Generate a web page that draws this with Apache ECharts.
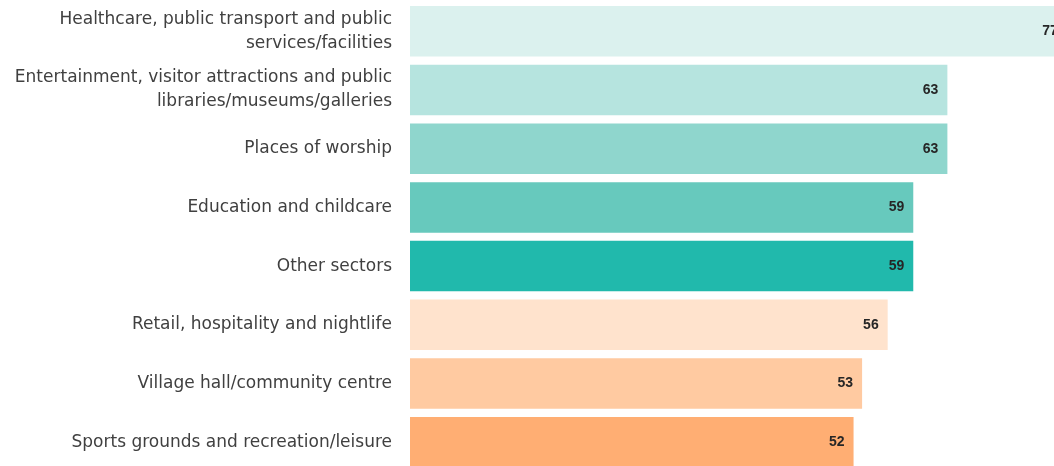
<!DOCTYPE html>
<html>
<head>
<meta charset="utf-8">
<script src="https://cdn.jsdelivr.net/npm/echarts@6/dist/echarts.min.js"></script>
<style>
  html, body { margin: 0; padding: 0; background: #fff; overflow: hidden; }
  /* chart is larger than the window: the original crops the first bar on the right and the last bar at the bottom */
  #chart { width: 1263px; height: 472px; }
</style>
</head>
<body>
<div id="chart"></div>
<script>
// categories, top to bottom
const categories = [
  "Healthcare, public transport and public\nservices/facilities",
  "Entertainment, visitor attractions and public\nlibraries/museums/galleries",
  "Places of worship",
  "Education and childcare",
  "Other sectors",
  "Retail, hospitality and nightlife",
  "Village hall/community centre",
  "Sports grounds and recreation/leisure"
];
const values = [77, 63, 63, 59, 59, 56, 53, 52];
const barColors = ["#dbf1ee", "#b6e4df", "#8fd6cd", "#67c9bd", "#21b9ac", "#ffe3cd", "#ffcaa1", "#ffae73"];

const chart = echarts.init(document.getElementById("chart"));
chart.setOption({
  animation: false,
  grid: { left: 410, right: 0, top: 2, bottom: 0.5, containLabel: false },
  xAxis: {
    type: "value",
    min: 0,
    max: 100,
    show: false
  },
  yAxis: {
    type: "category",
    inverse: true,
    data: categories,
    axisLine: { show: false },
    axisTick: { show: false },
    axisLabel: {
      margin: 18,
      color: "#404040",
      fontFamily: "DejaVu Sans",
      fontSize: 17,
      lineHeight: 24,
      align: "right"
    }
  },
  series: [{
    type: "bar",
    barCategoryGap: "14%",
    data: values.map((v, i) => ({ value: v, itemStyle: { color: barColors[i] } })),
    label: {
      show: true,
      position: "insideRight",
      distance: 9,
      color: "#262626",
      fontFamily: "Liberation Sans",
      fontWeight: "bold",
      fontSize: 14
    }
  }]
});
</script>
</body>
</html>
